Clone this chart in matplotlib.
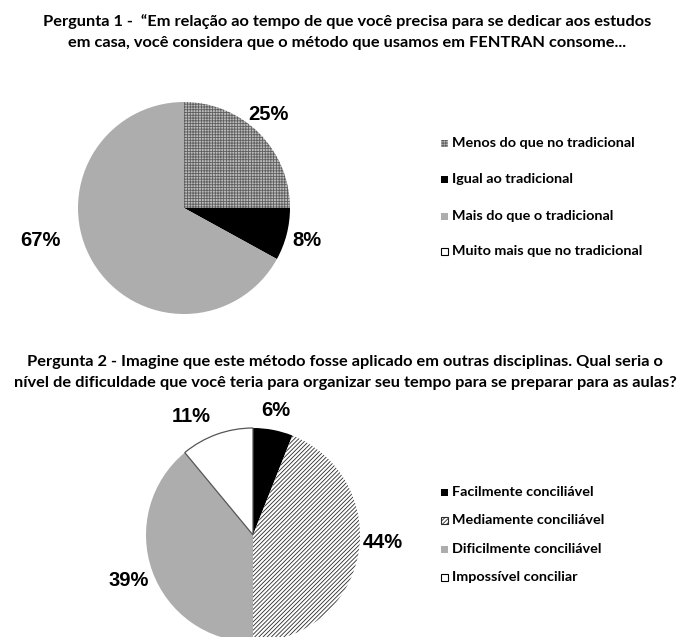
import matplotlib
matplotlib.use("Agg")
import matplotlib.pyplot as plt

# ---------------- data ----------------
title1_lines = ["Pergunta 1 -  \u201cEm relação ao tempo de que você precisa para se dedicar aos estudos",
                "em casa, você considera que o método que usamos em FENTRAN consome..."]
labels1 = ["Menos do que no tradicional", "Igual ao tradicional",
           "Mais do que o tradicional", "Muito mais que no tradicional"]
values1 = [25, 8, 67, 0]

title2_lines = ["Pergunta 2 - Imagine que este método fosse aplicado em outras disciplinas. Qual seria o",
                "nível de dificuldade que você teria para organizar seu tempo para se preparar para as aulas?"]
labels2 = ["Facilmente conciliável", "Mediamente conciliável",
           "Dificilmente conciliável", "Impossível conciliar"]
values2 = [6, 44, 39, 11]

# ---------------- styles ----------------
W, H = 686, 637
plt.rcParams["hatch.linewidth"] = 0.6
title_font = ["Lato", "DejaVu Sans"]
pct_font = ["Liberation Sans", "Arial", "DejaVu Sans"]

styles1 = [dict(fc="#bdbdbd", ec="#5e5e5e", hatch="++++++"),
           dict(fc="black", ec="black", hatch=None),
           dict(fc="#adadad", ec="#adadad", hatch=None),
           dict(fc="white", ec="black", hatch=None)]
styles2 = [dict(fc="black", ec="black", hatch=None),
           dict(fc="white", ec="#2a2a2a", hatch="////////"),
           dict(fc="#adadad", ec="#adadad", hatch=None),
           dict(fc="white", ec="#555555", hatch=None)]

fig = plt.figure(figsize=(W / 100, H / 100), dpi=100)
ax = fig.add_axes([0, 0, 1, 1])


def Y(y):
    return H - y


def draw_pie(values, styles, center, radius, lw_edges):
    wedges, _ = ax.pie(values, startangle=90, counterclock=False,
                       center=(center[0], Y(center[1])), radius=radius,
                       frame=True)
    for w, st, lw in zip(wedges, styles, lw_edges):
        w.set_facecolor(st["fc"])
        w.set_edgecolor(st["ec"])
        w.set_linewidth(lw)
        if st["hatch"]:
            w.set_hatch(st["hatch"])
    return wedges


draw_pie(values1, styles1, (184, 208), 106, [0, 0, 0, 0])
draw_pie(values2, styles2, (253, 535), 107, [0, 0, 0, 0.9])
ax.set_xlim(0, W)
ax.set_ylim(0, H)
ax.set_aspect("equal")
ax.axis("off")

# percent labels
pct_pos1 = [(268, 115), (307, 240), (40, 241), None]
pct_pos2 = [(276, 411), (383, 543), (129, 580), (191, 416)]
for vals, poss in ((values1, pct_pos1), (values2, pct_pos2)):
    for v, p in zip(vals, poss):
        if p is None:
            continue
        ax.text(p[0], Y(p[1]), f"{v}%", ha="center", va="center",
                fontsize=14.5, fontweight="bold", family=pct_font)

# titles (one text per line, baseline-aligned)
for lines, xc, bases in ((title1_lines, 347, [26, 47]), (title2_lines, 345, [366, 387])):
    for line, b in zip(lines, bases):
        ax.text(xc, Y(b), line, ha="center", va="baseline", fontsize=11.8,
                fontweight="bold", family=title_font)


def legend(labels, styles, x, ys):
    s = 7
    for lab, st, y in zip(labels, styles, ys):
        edge = st["ec"] if st["fc"] != "white" or st["hatch"] else "black"
        lw = 0.8 if st["fc"] == "white" else 0
        ax.add_patch(plt.Rectangle((x, Y(y) - s / 2), s, s, facecolor=st["fc"],
                                   edgecolor=edge, hatch=st["hatch"], linewidth=lw))
        ax.text(x + s + 4, Y(y), lab, ha="left", va="center", fontsize=10.4,
                fontweight="bold", family=title_font)


legend(labels1, styles1, 441, [143, 179, 216, 251])
legend(labels2, styles2, 441, [492, 520, 549, 577])

fig.savefig("out.png", dpi=100)
